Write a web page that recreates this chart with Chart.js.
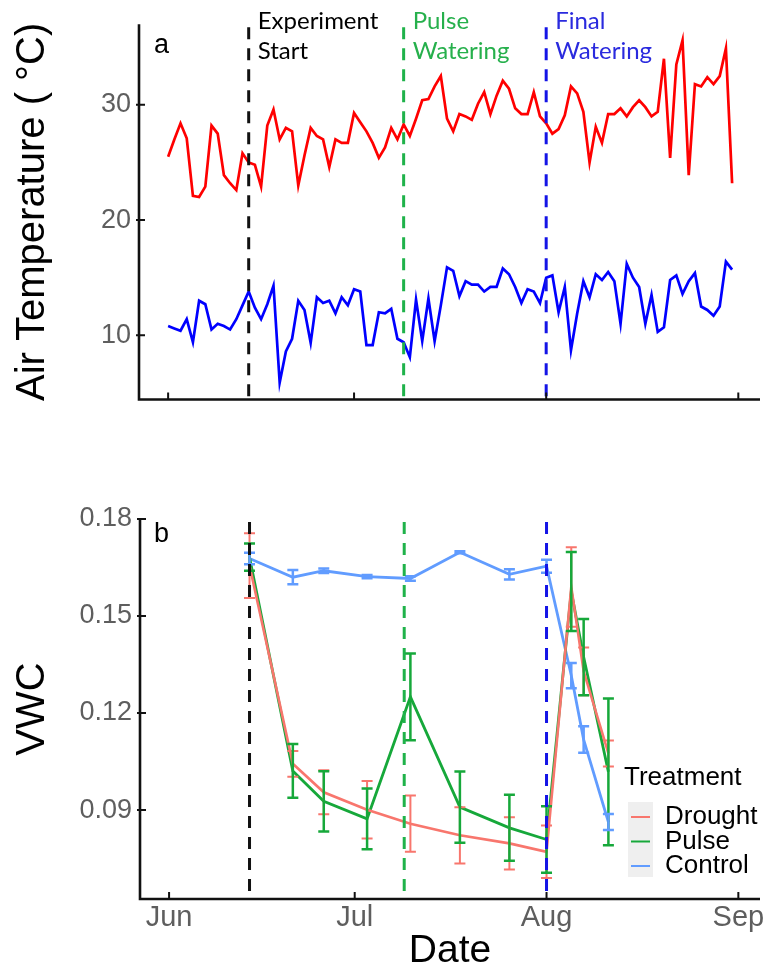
<!DOCTYPE html>
<html>
<head>
<meta charset="utf-8">
<script src="https://cdn.jsdelivr.net/npm/chart.js@4.4.1/dist/chart.umd.min.js"></script>
<style>
  body { margin: 0; background: #fff; }
  canvas { position: absolute; left: 0; }
  #tempChart { top: 0; }
  #vwcChart { top: 470px; }
</style>
</head>
<body>
<canvas id="tempChart" width="768" height="470"></canvas>
<canvas id="vwcChart" width="768" height="508"></canvas>
<script>
// days are counted from 1 June
const monthDays = [0, 30, 61, 92];
const monthLabels = ['Jun', 'Jul', 'Aug', 'Sep'];

// daily max / min air temperature, 1 Jun - 31 Aug
const tempMax = [25.5, 27.0, 28.4, 27.1, 22.1, 22.0, 22.9, 28.2, 27.5, 23.9,
  23.2, 22.6, 25.8, 25.0, 24.8, 22.9, 28.2, 29.6, 27.0, 28.0,
  27.7, 23.0, 25.6, 28.0, 27.3, 27.0, 24.6, 27.0, 26.7, 26.7,
  29.3, 28.5, 27.7, 26.7, 25.4, 26.3, 28.0, 27.0, 28.3, 27.3,
  28.8, 30.4, 30.5, 31.6, 32.5, 28.8, 27.7, 29.2, 29.0, 28.7,
  30.1, 31.1, 29.2, 30.8, 32.1, 31.4, 29.7, 29.2, 29.2, 31.1,
  29.0, 28.4, 27.5, 27.9, 29.1, 31.6, 31.0, 29.4, 25.0, 28.1,
  26.7, 29.2, 29.2, 29.7, 29.0, 29.8, 30.4, 29.8, 29.0, 29.4,
  34.0, 25.4, 33.5, 35.6, 23.9, 31.8, 31.6, 32.4, 31.8, 32.5,
  34.9, 23.2];
const tempMin = [10.8, 10.6, 10.4, 11.4, 9.4, 13.0, 12.7, 10.5, 11.0, 10.8,
  10.5, 11.4, 12.6, 13.8, 12.4, 11.4, 12.7, 14.3, 5.9, 8.6,
  9.7, 13.0, 12.2, 9.35, 13.3, 12.8, 13.0, 11.9, 13.3, 12.6,
  14.0, 13.8, 9.15, 9.15, 12.0, 11.9, 12.3, 9.7, 9.4, 8.1,
  13.1, 9.5, 13.2, 9.5, 12.6, 15.9, 15.6, 13.4, 14.7, 14.4,
  14.4, 13.8, 14.2, 14.2, 15.8, 15.3, 14.2, 12.8, 14.0, 13.8,
  12.8, 15.0, 15.2, 12.0, 14.2, 8.7, 11.9, 14.7, 13.3, 15.3,
  14.8, 15.5, 14.7, 11.0, 16.2, 15.0, 14.2, 11.0, 13.5, 10.3,
  10.7, 14.8, 15.2, 13.6, 14.7, 15.4, 12.5, 12.2, 11.7, 12.5,
  16.4, 15.7];
const tempTicks = [10, 20, 30];

// soil moisture sampling dates (Jun 14 ... Aug 11)
const sampleDays = [13, 20, 25, 32, 39, 47, 55, 61, 65, 67, 71];
const droughtVWC = [0.1656, 0.1043, 0.0955, 0.0901, 0.0858, 0.0822, 0.0797, 0.0771, 0.1590, 0.1329, 0.1075];
const droughtSE  = [0.0100, 0.0040, 0.0068, 0.0089, 0.0087, 0.0087, 0.0081, 0.0081, 0.0123, 0.0074, 0.0040];
const pulseVWC   = [0.1682, 0.1021, 0.0927, 0.0873, 0.1250, 0.0909, 0.0845, 0.0809, 0.1576, 0.1373, 0.1018];
const pulseSE    = [0.0042, 0.0083, 0.0093, 0.0094, 0.0134, 0.0110, 0.0102, 0.0103, 0.0122, 0.0118, 0.0227];
const controlVWC = [0.1678, 0.1620, 0.1640, 0.1622, 0.1616, 0.1697, 0.1629, 0.1654, 0.1316, 0.1118, 0.0863];
const controlSE  = [0.0018, 0.0022, 0.0007, 0.0005, 0.0007, 0.0003, 0.0016, 0.0020, 0.0039, 0.0041, 0.0025];
const vwcTicks = [0.09, 0.12, 0.15, 0.18];

// experiment events
const eventDays = [13, 38, 61];
const eventLabels = [['Experiment', 'Start'], ['Pulse', 'Watering'], ['Final', 'Watering']];
const eventLineColors = ['#111111', '#1fb24a', '#1414e6'];
const eventTextColors = ['#000000', '#26b04c', '#2a2ade'];

const sans = "'Liberation Sans', Arial, sans-serif";
const tickGrey = '#5e5e5e';

const toPoints = (xs, ys) => ys.map((y, i) => ({ x: xs[i], y: y }));
const dayIndex = tempMax.map((_, i) => i);

// vertical dashed event lines, with optional text beside them
function eventLines(withText) {
  return {
    id: 'eventLines',
    afterDatasetsDraw(chart) {
      const { ctx, chartArea, scales } = chart;
      ctx.save();
      eventDays.forEach((d, i) => {
        const x = scales.x.getPixelForValue(d);
        ctx.strokeStyle = eventLineColors[i];
        ctx.lineWidth = 3;
        ctx.setLineDash([12, 9]);
        ctx.beginPath();
        ctx.moveTo(x, chartArea.top + 3);
        ctx.lineTo(x, chartArea.bottom);
        ctx.stroke();
        if (withText) {
          ctx.fillStyle = eventTextColors[i];
          ctx.font = "24px Lato, 'Open Sans', sans-serif";
          ctx.textAlign = 'left';
          ctx.textBaseline = 'alphabetic';
          ctx.fillText(eventLabels[i][0], x + 9, 29);
          ctx.fillText(eventLabels[i][1], x + 9, 59);
        }
      });
      ctx.restore();
    }
  };
}

// axis lines with short inward tick marks
const axisLines = {
  id: 'axisLines',
  afterDraw(chart) {
    const { ctx, chartArea, scales } = chart;
    const { left, right, top, bottom } = chartArea;
    ctx.save();
    ctx.strokeStyle = '#111';
    ctx.lineWidth = 2.6;
    ctx.setLineDash([]);
    ctx.beginPath();
    ctx.moveTo(left, top);
    ctx.lineTo(left, bottom);
    ctx.lineTo(right, bottom);
    ctx.stroke();
    ctx.lineWidth = 2;
    ctx.beginPath();
    monthDays.forEach(d => {
      const x = scales.x.getPixelForValue(d);
      ctx.moveTo(x, bottom);
      ctx.lineTo(x, bottom - 7);
    });
    scales.y.ticks.forEach(t => {
      const y = scales.y.getPixelForValue(t.value);
      ctx.moveTo(left - 3, y);
      ctx.lineTo(left + 6, y);
    });
    ctx.stroke();
    ctx.restore();
  }
};

function panelLetter(letter, y) {
  return {
    id: 'panelLetter',
    afterDraw(chart) {
      const ctx = chart.ctx;
      ctx.save();
      ctx.fillStyle = '#000';
      ctx.font = '27px ' + sans;
      ctx.textAlign = 'left';
      ctx.textBaseline = 'middle';
      ctx.fillText(letter, 154, y);
      ctx.restore();
    }
  };
}

// mean +/- SE bars for each dataset that carries an "errors" array
const errorBars = {
  id: 'errorBars',
  afterDatasetsDraw(chart) {
    const { ctx, scales } = chart;
    ctx.save();
    chart.data.datasets.forEach((ds, di) => {
      if (!ds.errors) return;
      const meta = chart.getDatasetMeta(di);
      ctx.strokeStyle = ds.borderColor;
      ctx.lineWidth = ds.errorWidth || 2.5;
      ctx.beginPath();
      meta.data.forEach((pt, i) => {
        const v = ds.data[i].y, e = ds.errors[i];
        const yTop = scales.y.getPixelForValue(v + e);
        const yBot = scales.y.getPixelForValue(v - e);
        ctx.moveTo(pt.x, yTop); ctx.lineTo(pt.x, yBot);
        ctx.moveTo(pt.x - 5.5, yTop); ctx.lineTo(pt.x + 5.5, yTop);
        ctx.moveTo(pt.x - 5.5, yBot); ctx.lineTo(pt.x + 5.5, yBot);
      });
      ctx.stroke();
    });
    ctx.restore();
  }
};

const treatmentLegend = {
  id: 'treatmentLegend',
  afterDraw(chart) {
    const ctx = chart.ctx;
    ctx.save();
    ctx.fillStyle = '#000';
    ctx.font = '26px ' + sans;
    ctx.textAlign = 'left';
    ctx.textBaseline = 'middle';
    ctx.fillText('Treatment', 624, 308);
    ctx.fillStyle = '#efefef';
    ctx.fillRect(628, 332, 25, 75);
    chart.data.datasets.forEach((ds, i) => {
      const y = 347 + i * 24.5;
      ctx.strokeStyle = ds.borderColor;
      ctx.lineWidth = 2;
      ctx.beginPath();
      ctx.moveTo(631, y);
      ctx.lineTo(650, y);
      ctx.stroke();
      ctx.fillStyle = '#000';
      ctx.fillText(ds.label, 665, y);
    });
    ctx.restore();
  }
};

const xRange = { min: -4.7, max: 95.5 };

new Chart(document.getElementById('tempChart'), {
  type: 'line',
  data: {
    datasets: [
      { label: 'Max', data: toPoints(dayIndex, tempMax), borderColor: '#ff0000', borderWidth: 2.7 },
      { label: 'Min', data: toPoints(dayIndex, tempMin), borderColor: '#0000ff', borderWidth: 2.7 }
    ]
  },
  options: {
    responsive: false,
    animation: false,
    devicePixelRatio: 1,
    layout: { padding: { top: 17, right: 8, left: 0, bottom: 0 } },
    elements: { point: { radius: 0 }, line: { tension: 0 } },
    plugins: { legend: { display: false }, tooltip: { enabled: false } },
    scales: {
      x: {
        type: 'linear', min: xRange.min, max: xRange.max,
        ticks: { display: false },
        grid: { display: false, drawTicks: false },
        border: { display: false },
        afterFit: s => { s.height = 70.5; }
      },
      y: {
        min: 4.43, max: 37,
        afterBuildTicks: s => { s.ticks = tempTicks.map(v => ({ value: v })); },
        afterFit: s => { s.width = 139; },
        ticks: { color: tickGrey, font: { family: sans, size: 27 }, padding: 8 },
        grid: { display: false, drawTicks: false },
        border: { display: false },
        title: {
          display: true, text: 'Air Temperature ( °C)', color: '#000',
          font: { family: sans, size: 40 }, padding: { top: 9 }
        }
      }
    }
  },
  plugins: [eventLines(true), axisLines, panelLetter('a', 46)]
});

new Chart(document.getElementById('vwcChart'), {
  type: 'line',
  data: {
    datasets: [
      { label: 'Drought', data: toPoints(sampleDays, droughtVWC), errors: droughtSE, errorWidth: 2, borderColor: '#f8766d', borderWidth: 2.6 },
      { label: 'Pulse', data: toPoints(sampleDays, pulseVWC), errors: pulseSE, borderColor: '#16a83a', borderWidth: 2.8 },
      { label: 'Control', data: toPoints(sampleDays, controlVWC), errors: controlSE, borderColor: '#619cff', borderWidth: 2.8 }
    ]
  },
  options: {
    responsive: false,
    animation: false,
    devicePixelRatio: 1,
    layout: { padding: { top: 49, right: 8, left: 0, bottom: 0 } },
    elements: { point: { radius: 0 }, line: { tension: 0 } },
    plugins: { legend: { display: false }, tooltip: { enabled: false } },
    scales: {
      x: {
        type: 'linear', min: xRange.min, max: xRange.max,
        afterBuildTicks: s => { s.ticks = monthDays.map(v => ({ value: v })); },
        afterFit: s => { s.height = 79; },
        ticks: {
          color: tickGrey, font: { family: sans, size: 29 }, padding: 2,
          maxRotation: 0, autoSkip: false,
          callback: (v, i) => monthLabels[i]
        },
        grid: { display: false, drawTicks: false },
        border: { display: false },
        title: {
          display: true, text: 'Date', color: '#000',
          font: { family: sans, size: 39 }, padding: { bottom: 3 }
        }
      },
      y: {
        min: 0.0625, max: 0.18,
        afterBuildTicks: s => { s.ticks = vwcTicks.map(v => ({ value: v })); },
        afterFit: s => { s.width = 140; },
        ticks: {
          color: tickGrey, font: { family: sans, size: 27 }, padding: 8,
          callback: v => v.toFixed(2)
        },
        grid: { display: false, drawTicks: false },
        border: { display: false },
        title: {
          display: true, text: 'VWC', color: '#000',
          font: { family: sans, size: 40 }, padding: { top: 9 }
        }
      }
    }
  },
  plugins: [errorBars, eventLines(false), axisLines, treatmentLegend, panelLetter('b', 65)]
});
</script>
</body>
</html>
